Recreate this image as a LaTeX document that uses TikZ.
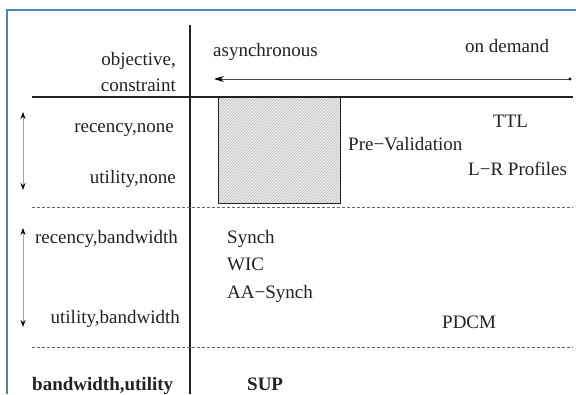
\documentclass[tikz,border=0pt]{standalone}
\usepackage{fontspec}
\setmainfont{Liberation Serif}
\usetikzlibrary{arrows.meta,patterns}
\definecolor{frameblue}{HTML}{4F81BD}
\definecolor{ink}{HTML}{222222}
\begin{document}
\begin{tikzpicture}[x=1pt,y=-1pt,
  lbl/.style={inner sep=0pt,text=ink,font=\fontsize{19}{22}\selectfont},
  lbll/.style={lbl,anchor=base west},
  lblr/.style={lbl,anchor=base east},
  bold/.style={font=\fontsize{19}{22}\selectfont\bfseries},
  solidrule/.style={draw=ink,line width=1.6pt},
  dashrule/.style={draw=gray!80!black,dashed,dash pattern=on 3pt off 2pt,line width=0.7pt},
  rangearrow/.style={draw=gray!70,line width=1pt,{Stealth[length=7pt,width=5pt,black]}-{Stealth[length=7pt,width=5pt,black]}}
]
\useasboundingbox (0,0) rectangle (576,394);
\fill[white] (0,0) rectangle (576,394);
% frame
\draw[frameblue,line width=2.2pt] (7,394) -- (7,10) -- (576,10);
% axes
\coordinate (vtop) at (190,25);
\coordinate (vbot) at (190,394);
\draw[solidrule] (vtop) -- (vbot);
\coordinate (hl) at (32,97);
\coordinate (hr) at (573,97);
\draw[solidrule] (hl) -- (hr);
% time arrow
\coordinate (ta) at (570,79);
\coordinate (tb) at (214,79);
\draw[draw=gray!60!black,line width=1pt,-{Stealth[length=10pt,width=6pt,black]}] (ta) -- (tb);
\fill[black] (ta) circle (1.6pt);
% hatched box
\node[fill=gray!14,minimum width=122pt,minimum height=106pt,inner sep=0pt,anchor=north west] (box) at (218,97) {};
\fill[pattern=north east lines,pattern color=gray!55] (box.south west) rectangle (box.north east);
\draw[ink,line width=0.8pt] (box.south west) rectangle (box.north east);
% dashed separators
\coordinate (d1l) at (32,207);
\coordinate (d1r) at (573,207);
\draw[dashrule] (d1l) -- (d1r);
\coordinate (d2l) at (32,347);
\coordinate (d2r) at (573,347);
\draw[dashrule] (d2l) -- (d2r);
% range arrows
\coordinate (a1t) at (23,112);
\coordinate (a1b) at (23,190);
\draw[rangearrow] (a1t) -- (a1b);
\coordinate (a2t) at (23,228);
\coordinate (a2b) at (23,327);
\draw[rangearrow] (a2t) -- (a2b);
% header labels
\node[lblr] (obj) at (176,65) {objective,};
\node[lblr] (con) at (176,91) {constraint};
\node[lbll] (async) at (213,56) {asynchronous};
\node[lbll] (ondem) at (465,52) {on demand};
% row labels
\node[lblr] (recn) at (174,132) {recency,none};
\node[lblr] (utin) at (176,183) {utility,none};
\node[lblr] (recb) at (178,243) {recency,bandwidth};
\node[lblr] (utib) at (180,323) {utility,bandwidth};
\node[lbll,bold] (bwu) at (32,390) {bandwidth,utility};
% entries
\node[lbll] (ttl) at (493,127) {TTL};
\node[lbll] (prev) at (348,150) {Pre−Validation};
\node[lbll] (lr) at (468,175) {L−R Profiles};
\node[lbll] (synch) at (227,243) {Synch};
\node[lbll] (wic) at (227,270) {WIC};
\node[lbll] (aas) at (227,298) {AA−Synch};
\node[lbll] (pdcm) at (442,328) {PDCM};
\node[lbll,bold] (sup) at (247,390) {SUP};
\end{tikzpicture}
\end{document}
